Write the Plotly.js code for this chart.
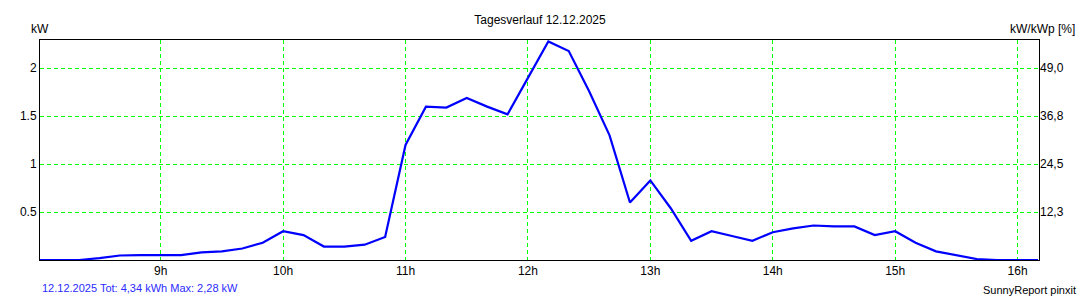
<!DOCTYPE html>
<html>
<head>
<meta charset="utf-8">
<script src="https://cdn.plot.ly/plotly-3.0.1.min.js"></script>
<style>
  html, body { margin: 0; padding: 0; background: #ffffff; }
  #chart { width: 1080px; height: 300px; }
</style>
</head>
<body>
<div id="chart"></div>
<script>
// 10-minute readings of 12.12.2025
const day = "2025-12-12";
const times = [
  "08:00","08:10","08:20","08:30","08:40","08:50",
  "09:00","09:10","09:20","09:30","09:40","09:50",
  "10:00","10:10","10:20","10:30","10:40","10:50",
  "11:00","11:10","11:20","11:30","11:40","11:50",
  "12:00","12:10","12:20","12:30","12:40","12:50",
  "13:00","13:10","13:20","13:30","13:40","13:50",
  "14:00","14:10","14:20","14:30","14:40","14:50",
  "15:00","15:10","15:20","15:30","15:40","15:50",
  "16:00","16:10"
];
const powerKW = [
  0.00, 0.00, 0.00, 0.02, 0.047, 0.05,
  0.05, 0.05, 0.08, 0.09, 0.12, 0.18,
  0.30, 0.26, 0.14, 0.14, 0.16, 0.24,
  1.20, 1.60, 1.59, 1.69, 1.60, 1.52,
  1.90, 2.28, 2.18, 1.76, 1.30, 0.60,
  0.83, 0.54, 0.20, 0.30, 0.25, 0.20,
  0.29, 0.33, 0.36, 0.35, 0.35, 0.26,
  0.30, 0.18, 0.09, 0.05, 0.01, 0.00,
  0.00, 0.00
];
const leftTickVals = [0.5, 1, 1.5, 2];
const leftTickText = ["0.5", "1", "1.5", "2"];
const rightTickVals = [12.25, 24.5, 36.75, 49.0];
const rightTickText = ["12,3", "24,5", "36,8", "49,0"];
const hourTicks = ["09:00","10:00","11:00","12:00","13:00","14:00","15:00","16:00"];
const hourLabels = ["9h","10h","11h","12h","13h","14h","15h","16h"];
const kwMax = 2.295;
const pctPerKW = 24.5;

const xs = times.map(t => day + " " + t);

const traces = [
  {
    x: xs, y: powerKW, type: "scatter", mode: "lines",
    line: { color: "#0000ff", width: 2.2 },
    hoverinfo: "x+y", showlegend: false
  },
  {
    x: [], y: [], type: "scatter", mode: "lines", yaxis: "y2",
    showlegend: false, hoverinfo: "skip"
  }
];

const font = { family: "Liberation Sans, Arial, sans-serif", size: 12, color: "#000000" };

const layout = {
  width: 1080, height: 300,
  margin: { l: 40, r: 41, t: 40, b: 40 },
  paper_bgcolor: "#ffffff", plot_bgcolor: "#ffffff",
  font: font,
  showlegend: false,
  title: { text: "Tagesverlauf 12.12.2025", x: 0.5, xanchor: "center", y: 0.935, yanchor: "middle",
           font: { family: font.family, size: 12, color: "#000000" } },
  xaxis: {
    type: "date",
    range: [day + " 08:00:50", day + " 16:10:30"],
    tickvals: hourTicks.map(t => day + " " + t),
    ticktext: hourLabels,
    ticks: "", showline: true, linecolor: "#000000", linewidth: 1, mirror: true,
    showgrid: true, gridcolor: "#00ff00", gridwidth: 1, griddash: "4px,3px",
    zeroline: false, fixedrange: true,
    tickfont: { family: font.family, size: 12, color: "#000000" }
  },
  yaxis: {
    range: [0, kwMax],
    tickvals: leftTickVals, ticktext: leftTickText,
    ticks: "", showline: true, linecolor: "#000000", linewidth: 1, mirror: true,
    showgrid: true, gridcolor: "#00ff00", gridwidth: 1, griddash: "4px,3px",
    zeroline: false, fixedrange: true,
    tickfont: { family: font.family, size: 12, color: "#000000" }
  },
  yaxis2: {
    overlaying: "y", side: "right",
    range: [0, kwMax * pctPerKW],
    tickvals: rightTickVals, ticktext: rightTickText,
    ticks: "", showline: false, showgrid: false, zeroline: false, fixedrange: true,
    tickfont: { family: font.family, size: 12, color: "#000000" }
  },
  annotations: [
    { text: "kW", xref: "paper", yref: "paper", x: 0, y: 1.01, xanchor: "center", yanchor: "bottom",
      showarrow: false, font: { family: font.family, size: 12, color: "#000000" } },
    { text: "kW/kWp [%]", xref: "paper", yref: "paper", x: 1.038, y: 1.01, xanchor: "right", yanchor: "bottom",
      showarrow: false, font: { family: font.family, size: 12, color: "#000000" } },
    { text: "12.12.2025 Tot: 4,34 kWh Max: 2,28 kW", xref: "paper", yref: "paper", x: 0, y: -0.093,
      xanchor: "left", yanchor: "top", showarrow: false,
      font: { family: font.family, size: 11, color: "#2b2bff" } },
    { text: "SunnyReport pinxit", xref: "paper", yref: "paper", x: 1.039, y: -0.1,
      xanchor: "right", yanchor: "top", showarrow: false,
      font: { family: font.family, size: 11, color: "#000000" } }
  ]
};

Plotly.newPlot("chart", traces, layout, { staticPlot: true, displayModeBar: false });
</script>
</body>
</html>
